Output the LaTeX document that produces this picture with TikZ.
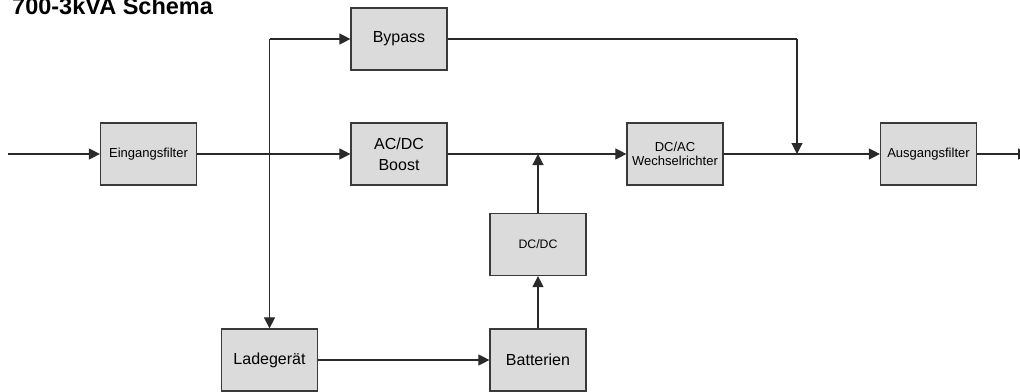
\documentclass[tikz,border=0pt]{standalone}
\usepackage{fontspec}
\setmainfont{Liberation Sans}
\usetikzlibrary{arrows.meta}
\definecolor{boxfill}{HTML}{DBDBDB}
\definecolor{boxline}{HTML}{3A3A3A}
\definecolor{lineclr}{HTML}{2A2A2A}
\begin{document}
\begin{tikzpicture}[x=1pt,y=-1pt,
  blk/.style={draw=boxline, fill=boxfill, line width=1.2pt, minimum width=96pt,
    minimum height=62pt, inner sep=0pt, align=center,
    font=\fontsize{16}{21}\selectfont},
  smalltext/.style={font=\fontsize{13}{14}\selectfont},
  wire/.style={draw=lineclr, line width=1.1pt},
  conn/.style={wire, -{Triangle[length=11pt,width=11pt]}}]
\clip (0,0) rectangle (1020,391);
\fill[white] (0,0) rectangle (1020,391);
\node[anchor=base west, font=\bfseries\fontsize{23.5}{25}\selectfont, inner sep=0pt] (title) at (12,14) {700-3kVA Schema};
\node[blk, smalltext] (eing) at (148.5,154) {Eingangsfilter};
\node[blk] (bypass) at (399,39) {Bypass};
\node[blk] (acdc) at (399,154) {AC/DC\\Boost};
\node[blk, smalltext] (dcac) at (675,154) {DC/AC\\Wechselrichter};
\node[blk, smalltext] (ausg) at (928.5,154) {Ausgangsfilter};
\node[blk] (lade) at (269.5,360) {Ladegerät};
\node[blk] (batt) at (538,360) {Batterien};
\node[blk, font=\fontsize{12.3}{14}\selectfont] (dcdc) at (538,244.5) {DC/DC};
\coordinate (in) at (8,154);
\coordinate (out) at (1029,154);
\coordinate (c1) at (lade.north |- bypass.west);
\coordinate (c2) at (797,39);
\coordinate (c3) at (797,154);
\draw[conn] (in) -- (eing.west);
\draw[conn] (eing.east) -- (acdc.west);
\draw[conn] (c1) -- (bypass.west);
\draw[conn] (c1) -- (lade.north);
\draw[conn] (acdc.east) -- (dcac.west);
\draw[conn] (dcdc.north) -- (dcdc.north |- acdc.east);
\draw[conn] (batt.north) -- (dcdc.south);
\draw[conn] (lade.east) -- (batt.west);
\draw[wire] (bypass.east) -- (c2);
\draw[conn] (c2) -- (c3);
\draw[conn] (dcac.east) -- (ausg.west);
\draw[conn] (ausg.east) -- (out);
\end{tikzpicture}
\end{document}
